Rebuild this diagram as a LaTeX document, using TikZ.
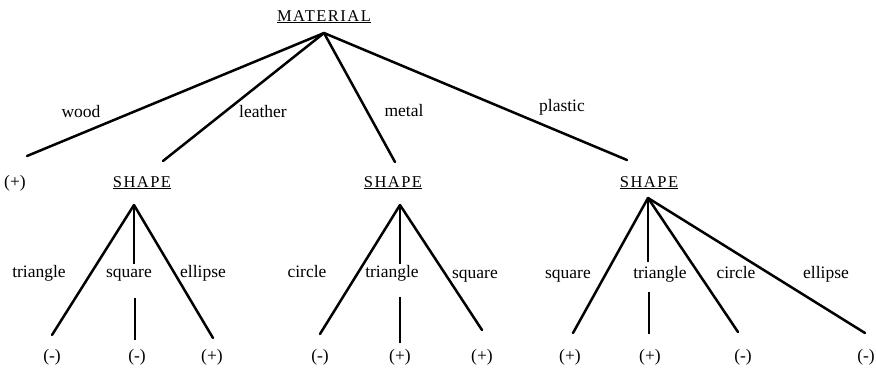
\documentclass[tikz,border=0pt]{standalone}
\usepackage{fontspec}
\setmainfont{Liberation Serif}
\newfontfamily\capsfont[LetterSpace=9]{Liberation Serif}
\begin{document}
\begin{tikzpicture}[x=1pt,y=-1pt,
  lab/.style={font=\fontsize{17.5}{19}\selectfont, inner sep=0pt, anchor=base},
  head/.style={font=\capsfont\fontsize{16.5}{19}\selectfont, inner sep=0pt, anchor=base},
  br/.style={line width=2.5pt, line cap=round},
  vt/.style={line width=1.5pt}]
\useasboundingbox (0,0) rectangle (876,373);
% root
\node[head] (mat) at (324,21) {\underline{MATERIAL}};
\coordinate (r) at (324,33);
\coordinate (e1) at (27,156);
\coordinate (e2) at (163,161);
\coordinate (e3) at (395,162);
\coordinate (e4) at (627,160);
\draw[br] (r) -- (e1);
\draw[br] (r) -- (e2);
\draw[br] (r) -- (e3);
\draw[br] (r) -- (e4);
\node[lab] (lwood) at (81,117) {wood};
\node[lab] (lleather) at (263,117) {leather};
\node[lab] (lmetal) at (404,116) {metal};
\node[lab] (lplastic) at (562,111) {plastic};
\node[lab] (p0) at (15,187) {(+)};
% SHAPE 1
\node[head] (sh1) at (142,187) {\underline{SHAPE}};
\coordinate (s1) at (134,205);
\coordinate (a1) at (52,335);
\coordinate (a2t) at (134,264);
\coordinate (a2b) at (135,298);
\coordinate (a2) at (135,340);
\coordinate (a3) at (213,338);
\draw[br] (s1) -- (a1);
\draw[vt] (s1) -- (a2t);
\draw[vt] (a2b) -- (a2);
\draw[br] (s1) -- (a3);
\node[lab] (la1) at (39,277) {triangle};
\node[lab] (la2) at (129,277) {square};
\node[lab] (la3) at (203,277) {ellipse};
\node[lab] (pa1) at (52,361) {(-)};
\node[lab] (pa2) at (137,361) {(-)};
\node[lab] (pa3) at (212,361) {(+)};
% SHAPE 2
\node[head] (sh2) at (393,187) {\underline{SHAPE}};
\coordinate (s2) at (400,205);
\coordinate (b1) at (320,334);
\coordinate (b2t) at (400,264);
\coordinate (b2b) at (400,297);
\coordinate (b2) at (400,343);
\coordinate (b3) at (482,330);
\draw[br] (s2) -- (b1);
\draw[vt] (s2) -- (b2t);
\draw[vt] (b2b) -- (b2);
\draw[br] (s2) -- (b3);
\node[lab] (lb1) at (307,277) {circle};
\node[lab] (lb2) at (392,277) {triangle};
\node[lab] (lb3) at (475,278) {square};
\node[lab] (pb1) at (320,361) {(-)};
\node[lab] (pb2) at (400,361) {(+)};
\node[lab] (pb3) at (482,361) {(+)};
% SHAPE 3
\node[head] (sh3) at (649,187) {\underline{SHAPE}};
\coordinate (s3) at (648,198);
\coordinate (c1) at (573,333);
\coordinate (c2t) at (648,262);
\coordinate (c2b) at (649,292);
\coordinate (c2) at (649,334);
\coordinate (c3) at (738,332);
\coordinate (c4) at (865,333);
\draw[br] (s3) -- (c1);
\draw[vt] (s3) -- (c2t);
\draw[vt] (c2b) -- (c2);
\draw[br] (s3) -- (c3);
\draw[br] (s3) -- (c4);
\node[lab] (lc1) at (568,278) {square};
\node[lab] (lc2) at (660,278) {triangle};
\node[lab] (lc3) at (736,278) {circle};
\node[lab] (lc4) at (826,278) {ellipse};
\node[lab] (pc1) at (570,361) {(+)};
\node[lab] (pc2) at (650,361) {(+)};
\node[lab] (pc3) at (743,361) {(-)};
\node[lab] (pc4) at (866,361) {(-)};
\end{tikzpicture}
\end{document}
